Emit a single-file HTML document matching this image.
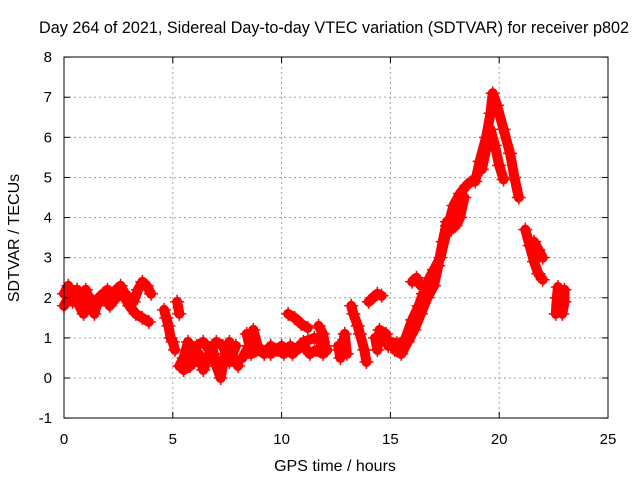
<!DOCTYPE html>
<html><head><meta charset="utf-8"><style>
body{margin:0;background:#fff;}
svg{display:block;font-family:"Liberation Sans",sans-serif;}
</style></head><body>
<svg id="chart" width="640" height="480">
<text x="334" y="33" font-size="16.2" text-anchor="middle">Day 264 of 2021, Sidereal Day-to-day VTEC variation (SDTVAR) for receiver p802</text>
<text x="335" y="471" font-size="16" text-anchor="middle">GPS time / hours</text>
<text transform="translate(19,238) rotate(-90)" font-size="16" text-anchor="middle">SDTVAR / TECUs</text>
<g id="grid"></g><g id="series"></g>
<rect x="64" y="57" width="544" height="361" fill="none" stroke="#000" stroke-width="1"/>
<g id="ticks"></g>
</svg>
<script>
const xTicks=[0,5,10,15,20,25];
const yTicks=[-1,0,1,2,3,4,5,6,7,8];
const tracks=[
 {t:[0,0.2,0.4,0.6,0.8,1.0,1.2,1.4,1.6,1.8,2.0,2.2,2.4,2.6,2.8,3.0,3.2,3.4,3.6,3.8,4.0],v:[2.1,2.3,1.9,2.2,1.8,2.2,1.9,1.6,2.0,2.1,2.2,2.0,2.2,2.3,2.1,2.0,1.9,2.2,2.4,2.3,2.1]},
 {t:[0,0.3,0.6,0.9,1.2,1.5,1.8,2.1,2.4,2.7,3.0,3.3,3.6,3.9],v:[1.8,2.1,1.9,1.6,2.0,1.8,2.1,1.8,2.0,2.1,1.8,1.6,1.5,1.4]},
 {t:[4.6,4.7,4.8,4.9,5.0,5.1],v:[1.7,1.5,1.3,1.0,0.9,0.7]},
 {t:[5.2,5.3],v:[1.9,1.6]},
 {t:[5.3,5.5,5.7,5.9,6.0,6.2,6.4,6.6,6.8,7.0,7.2,7.4,7.6,7.8,8.0],v:[0.3,0.5,0.9,0.7,0.4,0.6,0.2,0.5,0.8,0.3,0.0,0.6,0.9,0.5,0.3]},
 {t:[5.5,5.8,6.1,6.4,6.7,7.0,7.3,7.6,7.9],v:[0.2,0.3,0.8,0.9,0.7,0.9,0.8,0.4,0.8]},
 {t:[8.2,8.5,8.7,8.9,9.2,9.5,9.8,10.1,10.4,10.7,11.0,11.3,11.6,11.9,12.1],v:[0.5,0.8,1.2,0.8,0.6,0.8,0.7,0.6,0.8,0.7,0.8,0.6,0.7,0.6,0.7]},
 {t:[8.4,8.6,9.0,9.5,10.0,10.5,11.0,11.5,11.9],v:[1.1,0.6,0.7,0.6,0.8,0.6,0.9,1.0,0.9]},
 {t:[10.3,10.6,10.9,11.2],v:[1.6,1.5,1.35,1.25]},
 {t:[11.7,11.9,12.0],v:[1.3,1.1,0.8]},
 {t:[12.6,12.7,12.9,13.0],v:[0.8,0.5,1.1,0.6]},
 {t:[13.2,13.3,13.5,13.6,13.8,13.9],v:[1.8,1.6,1.3,1.1,0.7,0.4]},
 {t:[14.0,14.2,14.4,14.6],v:[1.9,2.0,2.1,2.05]},
 {t:[14.3,14.4,14.5,14.8,14.9],v:[1.0,0.7,1.2,1.1,0.8]},
 {t:[15.0,15.3,15.5,15.7,16.0,16.3,16.5,16.8,17.0,17.3,17.6,17.9,18.2,18.5,18.8],v:[0.9,0.87,0.8,1.0,1.45,1.8,2.1,2.5,2.7,3.0,3.7,4.3,4.6,4.8,4.94]},
 {t:[15.2,15.5,15.8,16.1,16.4,16.7,17.0,17.2,17.4,17.6],v:[0.7,0.6,0.9,1.2,1.6,2.0,2.3,2.8,3.4,3.9]},
 {t:[16.0,16.2,16.4],v:[2.4,2.5,2.3]},
 {t:[17.6,17.8,18.0,18.2,18.4],v:[3.8,3.7,3.8,4.0,4.5]},
 {t:[18.9,19.1,19.4,19.6,19.7,19.9,20.2,20.5,20.7,20.9],v:[4.9,5.4,6.0,6.6,7.1,6.8,6.2,5.6,5.0,4.5]},
 {t:[19.2,19.4,19.6,19.8,20.0,20.2],v:[5.2,5.7,6.2,5.8,5.3,4.95]},
 {t:[21.2,21.4,21.6,21.8,22.0],v:[3.7,3.3,2.9,2.6,2.45]},
 {t:[21.6,21.8,22.0],v:[3.4,3.2,3.0]},
 {t:[22.6,22.65,22.7],v:[1.6,2.0,2.27]},
 {t:[22.9,23.0,23.0],v:[1.6,1.9,2.2]}
];
const X=h=>64+h*544/25, Y=v=>378-v*40.11;
const NS="http://www.w3.org/2000/svg";
const grid=document.getElementById('grid'),ticks=document.getElementById('ticks'),ser=document.getElementById('series');
function mk(tag,at,parent){const e=document.createElementNS(NS,tag);for(const k in at)e.setAttribute(k,at[k]);parent.appendChild(e);return e;}
xTicks.forEach(t=>{
 if(t>0&&t<25){const g=mk('line',{x1:X(t),x2:X(t),y1:57,y2:418,stroke:'#a0a0a0','stroke-dasharray':'2,3'},grid);
 
 }
 mk('line',{x1:X(t),x2:X(t),y1:418,y2:412,stroke:'#000'},ticks);
 mk('line',{x1:X(t),x2:X(t),y1:57,y2:63,stroke:'#000'},ticks);
 const l=mk('text',{x:X(t),y:444,'font-size':15,'text-anchor':'middle'},ticks);l.textContent=t;
 
 
});
yTicks.forEach(t=>{
 if(t>-1&&t<8){const g=mk('line',{x1:64,x2:608,y1:Y(t),y2:Y(t),stroke:'#a0a0a0','stroke-dasharray':'2,3'},grid);
 
 }
 mk('line',{x1:64,x2:70,y1:Y(t),y2:Y(t),stroke:'#000'},ticks);
 mk('line',{x1:608,x2:602,y1:Y(t),y2:Y(t),stroke:'#000'},ticks);
 const l=mk('text',{x:52,y:Y(t)+5,'font-size':15,'text-anchor':'end'},ticks);l.textContent=t;
 
 
});
tracks.forEach(tr=>{
 const pts=tr.t.map((t,i)=>X(t)+','+Y(tr.v[i])).join(' ');
 const pl=mk('polyline',{points:pts,fill:'none',stroke:'#ff0000','stroke-width':10,'stroke-linejoin':'round','stroke-linecap':'round'},ser);
 
 
 tr.t.forEach((t,i)=>{
  const x=X(t),y=Y(tr.v[i]);
  const p=mk('path',{d:`M${x-7},${y}H${x+7}M${x},${y-7}V${y+7}`,stroke:'#ff0000','stroke-width':1.5},ser);
  
  
 });
});
</script>
</body></html>
